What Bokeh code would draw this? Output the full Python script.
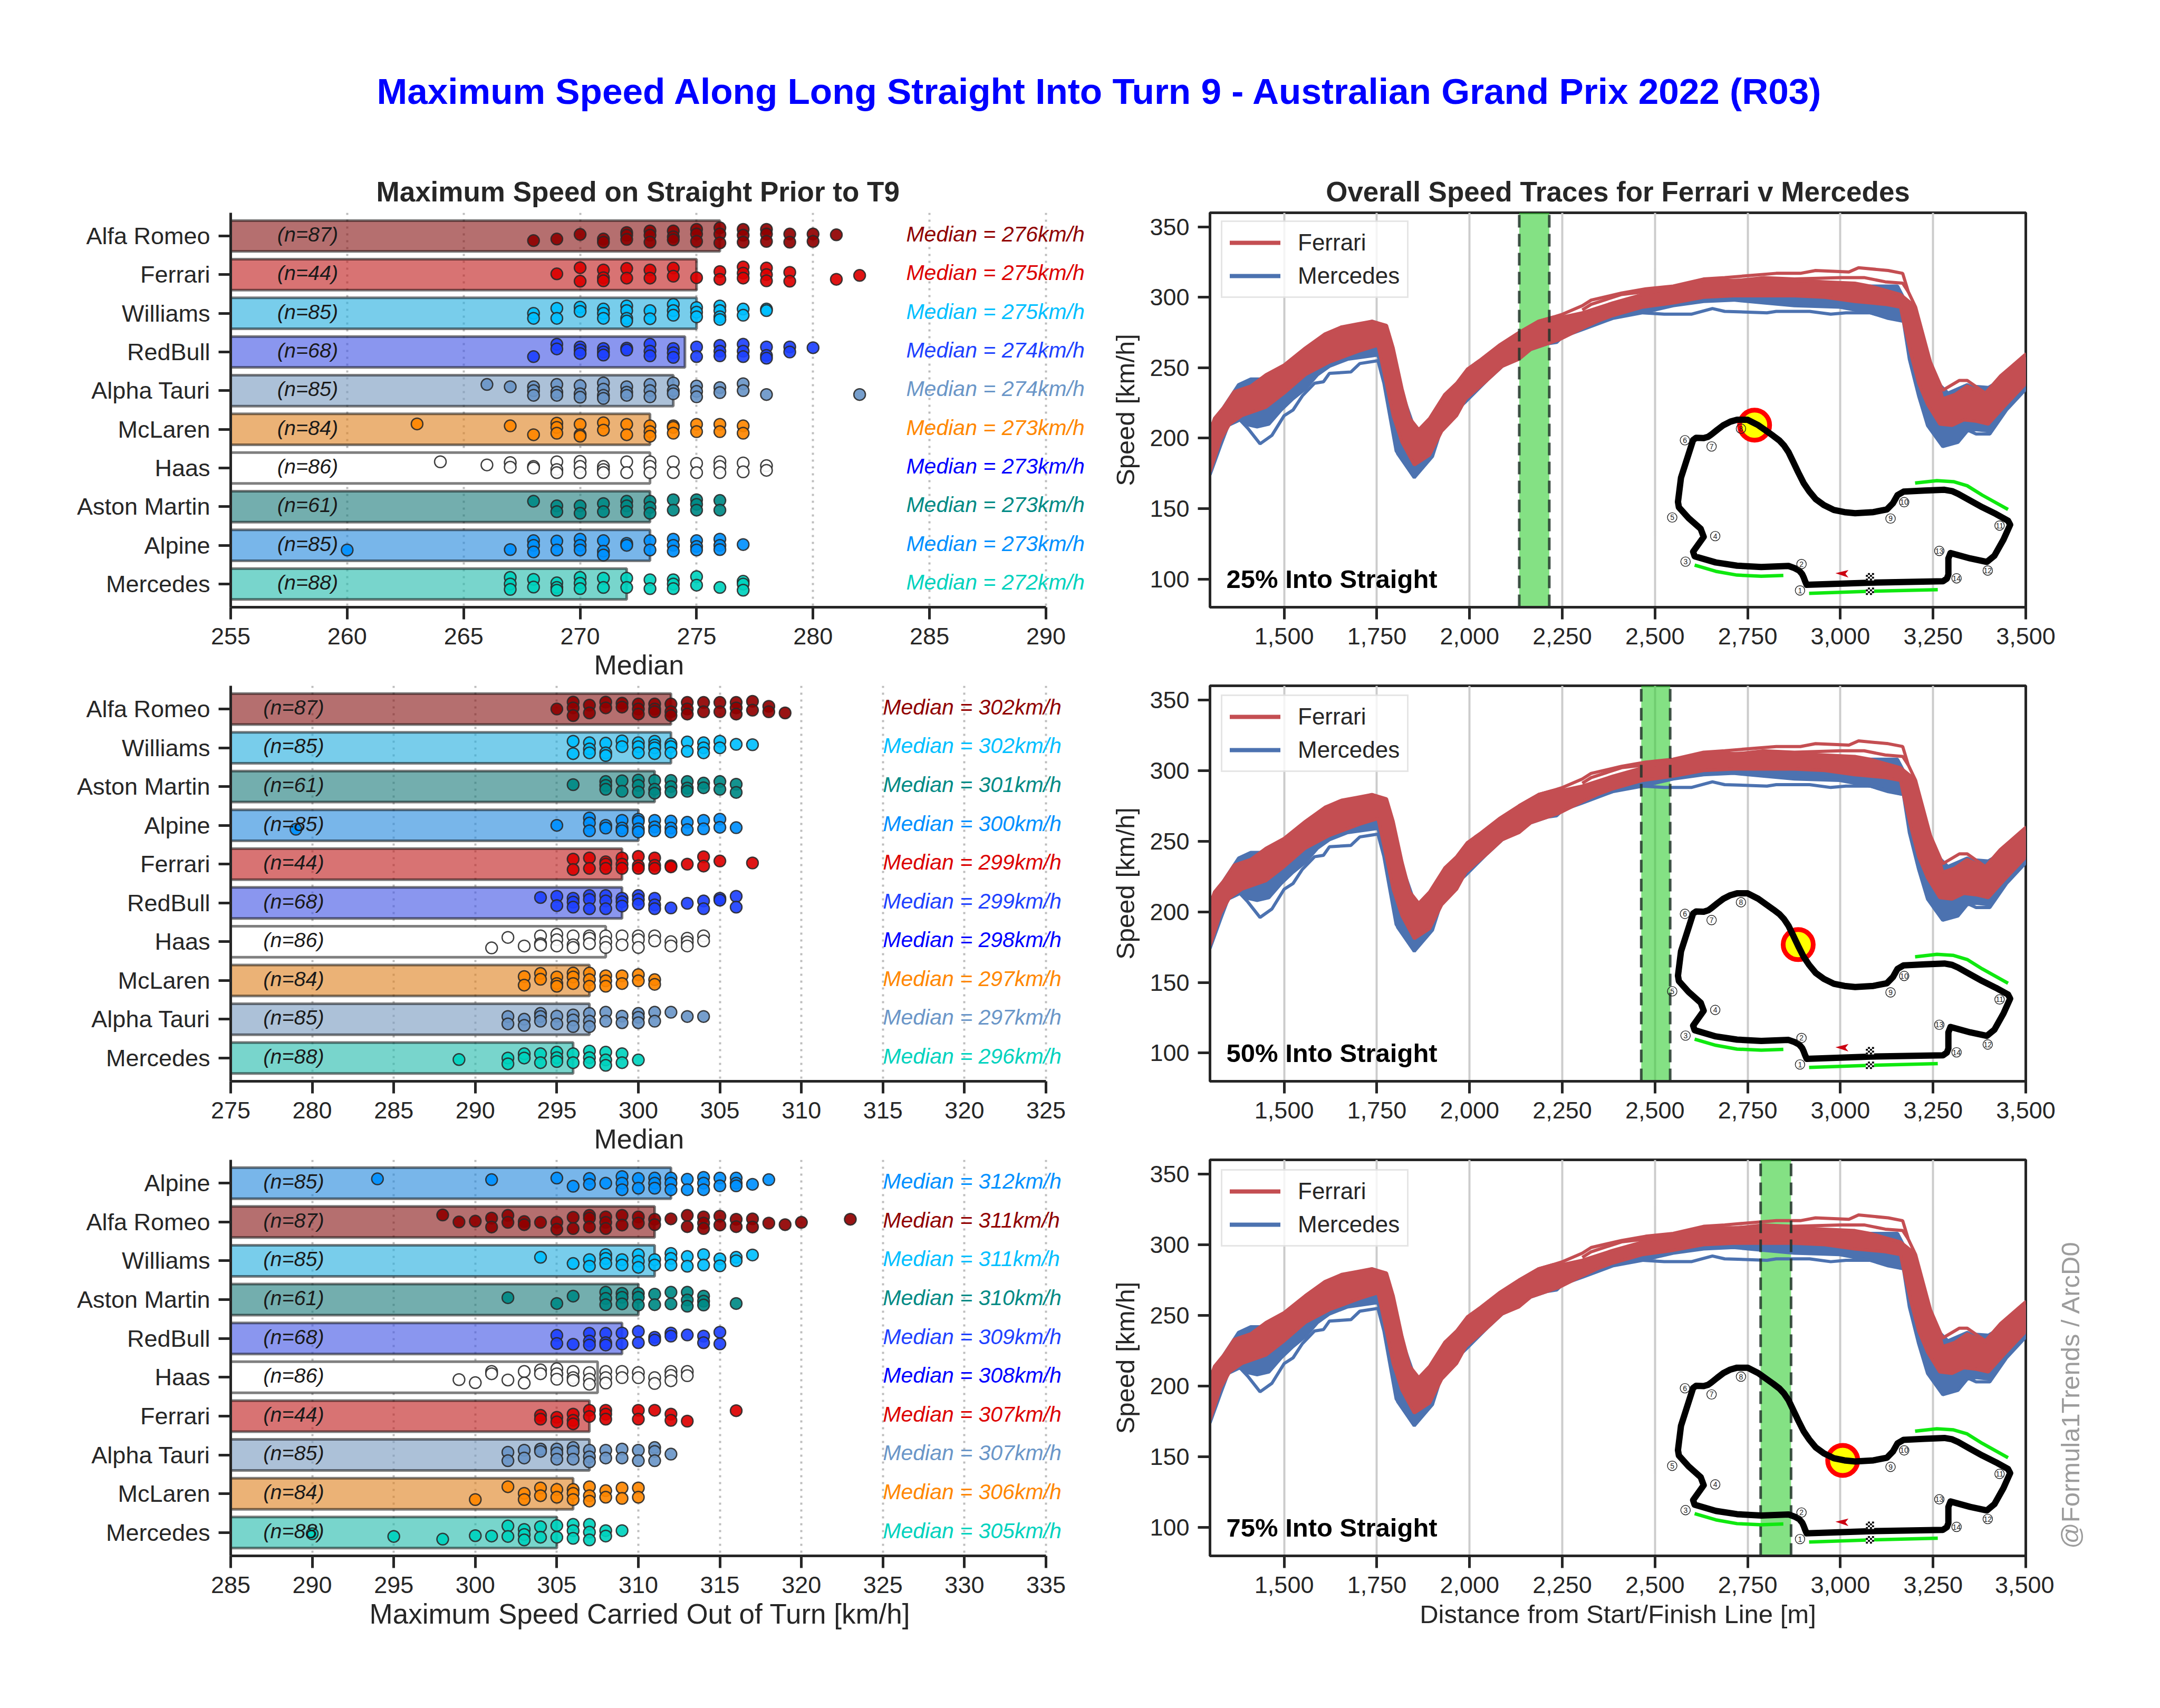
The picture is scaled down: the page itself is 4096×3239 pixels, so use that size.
from math import pi
from bokeh.embed import file_html
from bokeh.resources import INLINE
from bokeh.plotting import figure
from bokeh.layouts import column, row
from bokeh.core.properties import value
from bokeh.models import (FixedTicker, Label, Legend, LegendItem, NumeralTickFormatter, Range1d, Title)

FONT = "Liberation Sans"
INK = "#262626"

TITLE = "Maximum Speed Along Long Straight Into Turn 9 - Australian Grand Prix 2022 (R03)"
LEFT_TITLE = "Maximum Speed on Straight Prior to T9"
RIGHT_TITLE = "Overall Speed Traces for Ferrari v Mercedes"
WATERMARK = "@Formula1Trends / ArcD0"

# team -> (dot colour, bar colour, label colour)
POINT = {"Alfa Romeo": "#900000", "Ferrari": "#dc0000", "Williams": "#00bfff", "RedBull": "#1e41ff",
         "Alpha Tauri": "#6a96c8", "McLaren": "#ff8700", "Haas": "#ffffff", "Aston Martin": "#008a85",
         "Alpine": "#0090ff", "Mercedes": "#00d2be"}
BAR = {"Alfa Romeo": "#840f0f", "Ferrari": "#be1616", "Williams": "#1eacde", "RedBull": "#3c50e4",
       "Alpha Tauri": "#7598be", "McLaren": "#de7f1b", "Haas": "#ffffff", "Aston Martin": "#167878",
       "Alpine": "#1e85dc", "Mercedes": "#1eb9aa"}
TEXT = dict(POINT, Haas="#0000ff")
LAPS = {"Alfa Romeo": 87, "Ferrari": 44, "Williams": 85, "RedBull": 68, "Alpha Tauri": 85, "McLaren": 84,
        "Haas": 86, "Aston Martin": 61, "Alpine": 85, "Mercedes": 88}

# ---------- 25 % ---------- speed: strip-plot vertical offsets
P1_ALFA = {268:[.12],269:[.08],270:[-.04],271:[.08,.16],272:[-.09,-.02,.09],273:[-.13,-.02,.16],274:[-.13,.02,.1],
           275:[-.17,-.05,.14],276:[-.21,-.05,.18],277:[-.17,-.02,.16],278:[-.17,-.05,.14],279:[-.05,.16],280:[-.05,.14],281:[-.03]}
P1_FERRARI = {269:[-.02],270:[-.18,.17],271:[-.12,.08,.16],272:[-.16,.09],273:[-.12,.09],274:[-.17,.04],275:[.08],
              276:[-.08,.12],277:[-.2,-.04,.09],278:[-.17,0,.16],279:[-.06,.17],281:[.12],282:[.02]}
P1_WILLIAMS = {268:[0,.13],269:[-.13,.13],270:[-.16,-.05],271:[-.11,0,.13],272:[-.19,-.07,.13,.2],273:[-.07,.14],
               274:[-.23,-.07,.05],275:[-.15,-.03,.09],276:[-.19,-.07,.09,.16],277:[-.11,.05],278:[-.11,-.07]}
P1_REDBULL = {268:[.12],269:[-.2,-.08],270:[-.13,-.05,.04],271:[-.09,0,.08],272:[-.1,-.05],273:[-.2,-.02,.1],
              274:[-.09,.02,.14],275:[-.13,.12],276:[-.17,-.02,.1],277:[-.2,-.02,.12],278:[-.13,.09,.16],279:[-.13,0],280:[-.11]}
P1_ALPHATAURI = {266:[-.16],267:[-.1],268:[-.1,0,.12],269:[-.16,.04,.12],270:[-.13,.08,.17],271:[-.2,-.04,.12,.2],
                 272:[-.1,.04,.12],273:[-.16,0,.16],274:[-.2,0,.08],275:[-.12,.02,.16],276:[-.08,.05],277:[-.18,0],278:[.1],282:[.1]}
P1_MCLAREN = {263:[-.14],267:[-.09],268:[.14],269:[-.16,-.05,.1],270:[-.13,.14,.18],271:[-.17,.02],272:[-.13,.14],
              273:[-.09,.06,.18],274:[-.09,-.05,.1],275:[-.13,.06],276:[-.13,.06],277:[-.09,.1]}
P1_HAAS = {264:[-.16],266:[-.08],267:[-.14,-.02],268:[-.04,0],269:[-.16,.04,.12],270:[-.17,-.04,.12],271:[-.04,.04,.12],
           272:[-.16,.12],273:[-.16,-.04,.12],274:[-.16,.12],275:[-.12,.12],276:[-.16,-.04,.12],277:[-.13,.1],278:[-.06,.06]}
P1_ASTON = {268:[-.14],269:[-.02,.13],270:[-.02,.17],271:[-.08,.13],272:[-.14,-.02,.13],273:[-.14,.02,.17],
            274:[-.18,.09],275:[-.18,-.06,.09],276:[-.16,.09]}
P1_ALPINE = {260:[.12],267:[.11],268:[-.12,0,.17],269:[-.11,.12],270:[-.16,0,.12],271:[-.12,.15,.25],272:[-.05,0],
             273:[-.12,.12],274:[-.16,0,.15],275:[-.12,.03,.12],276:[-.16,0,.11],277:[-.02]}
P1_MERCEDES = {267:[-.17,0,.14],268:[-.12,.08],269:[-.03,.09,.16],270:[-.17,-.02,.12],271:[-.15,.09],272:[-.15,.09],
               273:[-.11,.12],274:[-.11,0,.12],275:[-.19,.03],276:[.09],277:[-.07,0,.16]}

P1_ORDER = ["Alfa Romeo", "Ferrari", "Williams", "RedBull", "Alpha Tauri", "McLaren", "Haas", "Aston Martin", "Alpine", "Mercedes"]
P1_MEDIAN = [276, 275, 275, 274, 274, 273, 273, 273, 273, 272]
P1_BAR_END = [276, 275, 275, 274.5, 274, 273, 273, 273, 273, 272]
P1_POINTS = [P1_ALFA, P1_FERRARI, P1_WILLIAMS, P1_REDBULL, P1_ALPHATAURI, P1_MCLAREN, P1_HAAS, P1_ASTON, P1_ALPINE, P1_MERCEDES]
P1_TICKS = [255, 260, 265, 270, 275, 280, 285, 290]

# ---------- 50 % ----------
P2_ALFA = {295:[0],296:[-.18,-.03,.17],297:[-.1,.1],298:[-.18,-.03],299:[-.15,-.05],300:[-.13,0,.13],301:[-.13,0,.07],
           302:[-.13,.07,.17],303:[-.17,0,.13],304:[-.17,.07],305:[-.17,.07],306:[-.17,-.03,.13],307:[-.2,.03],308:[-.07,.07],309:[.1]}
P2_WILLIAMS = {296:[-.17,.15],297:[-.13,.03,.13],298:[-.12,.13,.2],299:[-.18,-.03],300:[-.13,-.03,.13],301:[-.17,-.07,0,.15],
               302:[-.1,-.03,.13],303:[-.15,.09],304:[-.13,0,.13],305:[-.17,0],306:[-.09],307:[-.08]}
P2_ASTON = {296:[-.05],298:[-.13,-.03,.07],299:[-.15,.12],300:[-.17,-.03,.14],301:[-.16,.07,.17],302:[-.16,0,.14],
            303:[-.13,.04,.12],304:[-.09,.03],305:[-.13,.07],306:[-.06,.15]}
P2_ALPINE = {279:[.1],295:[0],297:[-.19,-.06,.14],298:[0,.07],299:[-.13,.07,.14],300:[-.16,-.1,.09,.17],301:[-.13,.04,.14],
             302:[-.11,.07,.17],303:[-.08,.11],304:[-.13,.09],305:[-.16,.05],306:[.06]}
P2_FERRARI = {296:[-.13,.14],297:[-.16,.11],298:[-.06,0,.11],299:[-.16,0,.11],300:[-.2,.04,.11],301:[-.16,.03,.11],302:[.04,.07],
              303:[0],304:[-.19,.05],305:[-.08],307:[-.03]}
P2_REDBULL = {294:[-.14],295:[-.17,.07],296:[-.12,-.02,.11],297:[-.19,-.09,.15],298:[-.19,-.05,.15],299:[-.12,-.03,.08],
              300:[-.19,-.09,.03],301:[-.12,.05,.15],302:[.13],303:[.01],304:[-.05,.15],305:[-.12,-.07],306:[-.17,.11]}
P2_HAAS = {291:[.16],292:[-.11],293:[.11],294:[-.15,.05,.09],295:[-.19,-.05,.11],296:[-.15,.08,.15],297:[-.15,-.09,.05],
           298:[-.15,.01,.15],299:[-.15,.08],300:[-.15,-.05,.15],301:[-.15,-.02],302:[0,.11],303:[-.09,.01,.11],304:[-.15,-.02]}
P2_MCLAREN = {293:[-.1,.12],294:[-.18,-.03],295:[-.09,.08,.15],296:[-.19,-.09,.08],297:[-.19,-.02,.15],298:[-.12,.01,.15],
              299:[-.12,.08],300:[-.15,.01],301:[-.02,.1]}
P2_ALPHATAURI = {292:[-.07,.12],293:[0,.16],294:[-.15,-.07,.05],295:[-.08,.12],296:[-.11,.02,.19],297:[-.15,.05,.19],
                 298:[-.18,.05],299:[-.08,.09],300:[-.15,-.05,.09],301:[-.18,.05],302:[-.18],303:[-.07],304:[-.07]}
P2_MERCEDES = {289:[.04],292:[0,.15],293:[-.11,0],294:[-.11,.12],295:[-.15,-.01,.09],296:[-.11,.12],297:[-.18,-.01,.12],
               298:[-.15,.05,.19],299:[-.11,.12],300:[.05]}

P2_ORDER = ["Alfa Romeo", "Williams", "Aston Martin", "Alpine", "Ferrari", "RedBull", "Haas", "McLaren", "Alpha Tauri", "Mercedes"]
P2_MEDIAN = [302, 302, 301, 300, 299, 299, 298, 297, 297, 296]
P2_BAR_END = P2_MEDIAN
P2_POINTS = [P2_ALFA, P2_WILLIAMS, P2_ASTON, P2_ALPINE, P2_FERRARI, P2_REDBULL, P2_HAAS, P2_MCLAREN, P2_ALPHATAURI, P2_MERCEDES]
P2_TICKS = [275, 280, 285, 290, 295, 300, 305, 310, 315, 320, 325]

# ---------- 75 % ----------
P3_ALPINE = {294:[-.11],301:[-.09],305:[-.13],306:[.08],307:[-.12,.03],308:[0],309:[-.17,0,.17],310:[-.12,.13],311:[-.13,0,.13],
             312:[-.13,0,.17],313:[-.1,.17],314:[-.15,0,.17],315:[-.13,.07],316:[-.13,0,.07],317:[.03],318:[-.09]}
P3_ALFA = {298:[-.18],299:[0],300:[-.02],301:[-.1,.13],302:[-.17,.01],303:[-.01,.07],304:[.01],305:[.01,.19],306:[-.12,.17],
           307:[-.17,-.1,.13],308:[-.13,.01,.17],309:[-.17,.08],310:[-.13,.03],311:[-.07,.07],312:[-.08],313:[-.17,.12],
           314:[-.13,.03,.17],315:[-.15,.08],316:[-.07,.12],317:[-.08,.13],318:[.03],319:[.07],320:[.01],323:[-.07]}
P3_WILLIAMS = {304:[-.09],306:[.07],307:[-.03,.14],308:[-.16,-.06,.07],309:[-.03,.11],310:[-.16,.01,.17],311:[-.03,.11],
               312:[-.19,-.06,.11],313:[-.11,.14],314:[-.16,.11],315:[-.05,.13],316:[-.09,0],317:[-.15]}
P3_ASTON = {302:[-.05],305:[.1],306:[-.09],308:[-.19,-.03,.13],309:[-.16,-.06,.11],310:[-.16,-.06,.14],311:[-.14,.13],
            312:[-.19,.11],313:[-.19,.01,.17],314:[-.09,.04,.14],316:[.1]}
P3_REDBULL = {305:[-.08,.13],306:[.15],307:[-.13,.07,.17],308:[-.13,.11,.17],309:[-.14,.14],310:[-.18,.11],311:[-.03,.04],
              312:[-.14,-.06],313:[-.09],314:[-.06,.11],315:[-.16,.14]}
P3_HAAS = {299:[.06],300:[.14],301:[-.15,-.09],302:[.07],303:[-.15,.15],304:[-.19,-.09],305:[-.22,-.09,.05],306:[-.15,.01,.08],
           307:[-.12,.05,.18],308:[-.15,.01,.15],309:[-.15,.01],310:[-.12,.01],311:[.01,.16],312:[-.15,-.05,.09],313:[-.15,-.04]}
P3_FERRARI = {304:[-.02,.08],305:[.03,.15],306:[-.05,.11,.2],307:[-.15,.01],308:[-.15,-.05,.08],310:[-.15,.08],311:[-.15],
              312:[-.05,.11],313:[.13],316:[-.14]}
P3_ALPHATAURI = {302:[-.07,.15],303:[-.12,.08],304:[-.15,-.09],305:[-.15,-.05,.11],306:[-.19,-.09,.11],307:[-.12,.05,.18],
                 308:[-.12,.08],309:[-.15,.08],310:[-.12,.15],311:[-.19,-.09,.15],312:[-.02]}
P3_MCLAREN = {300:[.15],302:[-.18],303:[-.01,.15],304:[-.15,.05],305:[-.11,.09],306:[-.11,-.01,.15],307:[-.18,.05,.19],
              308:[-.08,.09],309:[-.15,.12],310:[-.15,.09]}
P3_MERCEDES = {290:[.03],295:[.1],298:[.17],300:[.08],301:[.09],302:[-.17,.1],303:[-.08,.05,.19],304:[-.15,.12],305:[-.18,.12],
               306:[-.21,-.05,.15],307:[-.21,-.01,.19],308:[-.05,.09],309:[-.05]}

P3_ORDER = ["Alpine", "Alfa Romeo", "Williams", "Aston Martin", "RedBull", "Haas", "Ferrari", "Alpha Tauri", "McLaren", "Mercedes"]
P3_MEDIAN = [312, 311, 311, 310, 309, 308, 307, 307, 306, 305]
P3_BAR_END = [312, 311, 311, 310, 309, 307.5, 307, 307, 306, 305]
P3_POINTS = [P3_ALPINE, P3_ALFA, P3_WILLIAMS, P3_ASTON, P3_REDBULL, P3_HAAS, P3_FERRARI, P3_ALPHATAURI, P3_MCLAREN, P3_MERCEDES]
P3_TICKS = [285, 290, 295, 300, 305, 310, 315, 320, 325, 330, 335]

# ---------- speed traces (distance [m], speed [km/h]) ----------
FERRARI_HI_D = [1300,1312,1337,1365,1410,1451,1500,1557,1610,1655,1696,1737,1776,1794,1818,1839,1863,1892,1933,1965,1994,2031,2080,2133,2186,2227,2251,
                2304,2386,2467,2549,2631,2712,2794,2876,2958,3039,3080,3121,3162,3190,3211,3235,3260,3276,3309,3342,3391,3431,3501]
FERRARI_HI_V = [205,214,222,233,237,245,252,264,274,279,281,283,280,264,235,214,206,214,231,239,249,256,266,275,283,286,286,
                289,296,302,307,312,312,313,312,311,310,308,305,302,296,283,258,243,228,231,237,231,243,258]
FERRARI_LO_D = [1300,1329,1353,1386,1451,1500,1557,1622,1704,1753,1769,1794,1818,1851,1892,1925,1965,1990,2047,2088,2133,2165,2210,2243,
                2304,2345,2386,2467,2549,2631,2712,2794,2876,2958,3039,3121,3162,3170,3190,3211,3235,3268,3301,3333,3366,3399,3440,3501]
FERRARI_LO_V = [176,199,210,216,222,232,245,254,262,266,247,216,197,181,188,205,216,228,241,251,256,263,267,270,
                278,283,287,293,296,300,301,301,301,300,297,295,293,283,260,239,224,210,209,213,212,210,222,239]
MERCEDES_HI_D = [1300,1337,1377,1410,1435,1500,1557,1610,1696,1737,1770,1794,1818,1850,1863,1892,1933,1965,2031,2133,2251,2386,2549,2631,2794,2876,
                 3039,3080,3154,3170,3190,3211,3235,3260,3290,3342,3350,3399,3431,3501]
MERCEDES_HI_V = [202,222,238,242,242,250,262,272,280,283,280,262,232,208,205,212,229,238,254,274,285,294,304,308,310,310,
                 307,308,308,300,290,279,255,240,232,238,237,236,241,257]
MERCEDES_LO_D = [1300,1329,1349,1381,1394,1427,1459,1492,1524,1557,1590,1622,1671,1753,1765,1786,1806,1851,1900,1917,1933,1990,2047,2088,2133,2165,2210,2235,2251,
                 2304,2386,2467,2549,2631,2712,2794,2876,2998,3080,3170,3186,3211,3235,3276,3317,3342,3366,3403,3448,3501]
MERCEDES_LO_V = [174,195,209,213,210,208,210,220,228,235,245,251,256,259,247,224,189,172,187,201,212,226,241,251,257,263,267,268,272,
                 277,285,289,294,297,298,296,294,293,289,283,256,230,209,194,197,205,206,205,222,235]
FERRARI_LAP1_D = [2133,2186,2227,2251,2304,2328,2410,2475,2549,2631,2688,2827,2892,2933,3023,3049,3129,3168,3183,3203,3243,3276,3321,3342,3391,3431,3501]
FERRARI_LAP1_V = [275,283,286,288,294,298,303,306,308,313,314,317,317,319,318,321,319,317,304,293,254,234,241,241,232,244,260]
FERRARI_LAP2_D = [2304,2328,2410,2475,2549,2794,2876,3000,3064,3121,3168,3183]
FERRARI_LAP2_V = [291,295,302,304,307,314,313,314,314,311,310,304]
MERCEDES_LAP1_D = [1377,1402,1435,1467,1500,1524,1549,1582,1606,1622,1680,1704,1753,1769,1802,1851]
MERCEDES_LAP1_V = [214,207,196,202,216,220,230,239,240,246,247,253,255,239,191,172]
MERCEDES_LAP2_D = [2467,2525,2598,2655,2688,2802,2827,2917,2974,3015,3080,3129,3170]
MERCEDES_LAP2_V = [289,288,288,292,290,289,290,290,288,289,289,285,283]
MERCEDES_LAP3_D = [3317,3333,3366,3403,3448,3501]
MERCEDES_LAP3_V = [197,207,203,203,220,235]

# highlighted stretch of straight in each panel
ZONE_START = [2134, 2463, 2785]
ZONE_END = [2215, 2541, 2867]
ZONE_TEXT = ["25% Into Straight", "50% Into Straight", "75% Into Straight"]
MARKER_MAP_X = [568, 712, 859]
MARKER_MAP_Y = [835, 1005, 1158]

# ---------- circuit map, in map units ----------
TRACK_X = [1190,950,740,735,730,725,715,700,680,590,510,440,370,365,400,390,350,318,315,325,345,365,375,400,415,425,445,465,488,510,545,580,605,630,650,665,680,695,712,730,748,770,797,830,865,900,960,1005,1025,1040,1060,1130,1195,1220,1240,1280,1320,1365,1405,1412,1390,1360,1335,1280,1215,1208,1208,1203,1190]
TRACK_Y = [1415,1420,1428,1415,1400,1388,1375,1366,1358,1362,1357,1345,1322,1305,1250,1220,1180,1140,1120,1030,960,890,882,883,878,870,852,835,822,815,815,835,855,875,892,910,935,970,1010,1050,1080,1110,1132,1150,1158,1162,1158,1148,1125,1095,1082,1078,1075,1080,1090,1115,1140,1165,1190,1205,1260,1320,1343,1330,1310,1330,1390,1405,1415]
DRS1_X = [370,440,510,590,663]
DRS1_Y = [1355,1378,1392,1396,1393]
DRS2_X = [748,950,1173]
DRS2_Y = [1460,1452,1446]
DRS3_X = [1098,1170,1225,1270,1320,1405]
DRS3_Y = [1050,1041,1045,1060,1095,1148]
TURN_X = [718,723,340,438,296,338,426,523,1017,1062,1377,1338,1178,1235]
TURN_Y = [1449,1351,1342,1247,1178,891,914,848,1182,1121,1208,1375,1302,1404]
TURN_NAME = ["1","2","3","4","5","6","7","8","9","10","11","12","13","14"]
ARROW_X = [835,878,868,878]
ARROW_Y = [1385,1373,1387,1401]
FLAG_X = [949,949]
FLAG_Y = [1398,1452]


def mx(v):
    return [2304.8 + 0.8166 * a for a in v]


def my(v):
    return [368.8 - 0.1911 * a for a in v]


def style_axes(p, xt, yt=None):
    for ax in (p.xaxis[0], p.yaxis[0]):
        ax.axis_line_color = INK
        ax.axis_line_width = 5
        ax.major_tick_line_color = INK
        ax.major_tick_line_width = 5
        ax.major_tick_in = 0
        ax.major_tick_out = 23
        ax.minor_tick_line_color = None
        ax.major_label_text_font = FONT
        ax.major_label_text_font_size = "45px"
        ax.major_label_text_color = INK
        ax.major_label_standoff = 16
        ax.axis_label_text_font = FONT
        ax.axis_label_text_font_style = "normal"
        ax.axis_label_text_color = INK
    p.xaxis[0].ticker = FixedTicker(ticks=xt)
    if yt is not None:
        p.yaxis[0].ticker = FixedTicker(ticks=yt)


def title_style(p):
    p.title.text_font = FONT
    p.title.text_font_size = "53px"
    p.title.text_font_style = "bold"
    p.title.text_color = INK
    p.title.standoff = 21


def left_panel(order, medians, bar_ends, points, ticks, xlabel, xlabel_offset, xlabel_size, label_x, median_x, width, height, top, bottom, title=None):
    span = ticks[-1] - ticks[0]
    x_end = ticks[-1] + (width - 437 - 1546) * span / 1546
    p = figure(width=width, height=height, output_backend="svg", toolbar_location=None, title=title,
               x_range=Range1d(ticks[0], x_end), y_range=Range1d(9.6, -0.6),
               min_border_left=437, min_border_right=0, min_border_top=top, min_border_bottom=bottom)
    if title:
        title_style(p)
        p.title.align = "left"
        p.title.offset = 276
    p.outline_line_color = None
    p.background_fill_color = "white"
    style_axes(p, ticks, list(range(10)))
    p.xaxis[0].bounds = (ticks[0], ticks[-1])
    p.yaxis[0].major_label_overrides = {i: t for i, t in enumerate(order)}
    p.add_layout(Title(text=xlabel, align="left", offset=xlabel_offset, text_font=FONT, text_font_size=xlabel_size,
                       text_font_style="normal", text_color=INK, standoff=10), "below")
    p.ygrid.visible = False
    p.xgrid.grid_line_color = "#bdbdbd"
    p.xgrid.grid_line_width = 4
    p.xgrid.grid_line_dash = [4, 9]
    p.xgrid.ticker = FixedTicker(ticks=ticks)

    ys = list(range(10))
    p.hbar(y=ys, left=[ticks[0]] * 10, right=bar_ends, height=0.8,
           fill_color=[BAR[t] for t in order], fill_alpha=[0.6 if t != "Haas" else 1.0 for t in order],
           line_color="black", line_alpha=0.5, line_width=5)
    for i, (team, pts) in enumerate(zip(order, points)):
        xs, yy = [], []
        for speed, offs in pts.items():
            for o in offs:
                xs.append(speed)
                yy.append(i + o)
        p.scatter(xs, yy, size=22, fill_color=POINT[team], fill_alpha=0.92,
                  line_color="#2a2a2a", line_alpha=0.9, line_width=2.5)
    for i, team in enumerate(order):
        p.add_layout(Label(x=label_x, y=i - 0.05, text="(n=%d)" % LAPS[team], text_font=FONT, text_font_size="39.5px",
                           text_font_style="italic", text_color="#1a1a1a", text_align="left", text_baseline="middle"))
        p.add_layout(Label(x=median_x, y=i - 0.05, text="Median = %dkm/h" % medians[i], text_font=FONT, text_font_size="41px",
                           text_font_style="italic", text_color=TEXT[team], text_align="left", text_baseline="middle"))
    return p


def right_panel(k, xlabel, width, height, top, bottom, title=None):
    p = figure(width=width, height=height, output_backend="svg", toolbar_location=None, title=title,
               x_range=Range1d(1300, 3500), y_range=Range1d(80, 360),
               min_border_left=194, min_border_right=width - 194 - 1547, min_border_top=top, min_border_bottom=bottom)
    if title:
        title_style(p)
        p.title.align = "center"
    p.outline_line_color = INK
    p.outline_line_width = 5
    style_axes(p, list(range(1500, 3501, 250)), [100, 150, 200, 250, 300, 350])
    p.xaxis[0].formatter = NumeralTickFormatter(format="0,0")
    if xlabel:
        p.xaxis[0].axis_label = xlabel
    p.xaxis[0].axis_label_text_font_size = "49px"
    p.xaxis[0].axis_label_standoff = 10
    p.yaxis[0].axis_label = "Speed [km/h]"
    p.yaxis[0].axis_label_text_font_size = "49px"
    p.yaxis[0].axis_label_standoff = 16
    p.ygrid.visible = False
    p.xgrid.grid_line_color = "#cccccc"
    p.xgrid.grid_line_width = 4
    p.xgrid.ticker = FixedTicker(ticks=list(range(1500, 3501, 250)))

    p.quad(left=[ZONE_START[k]], right=[ZONE_END[k]], bottom=[80], top=[360], fill_color="limegreen",
           fill_alpha=0.6, line_color=None)

    for hi_d, hi_v, lo_d, lo_v, col, laps in (
        (MERCEDES_HI_D, MERCEDES_HI_V, MERCEDES_LO_D, MERCEDES_LO_V, "#4c72b0",
         [(MERCEDES_LAP1_D, MERCEDES_LAP1_V), (MERCEDES_LAP2_D, MERCEDES_LAP2_V), (MERCEDES_LAP3_D, MERCEDES_LAP3_V)]),
        (FERRARI_HI_D, FERRARI_HI_V, FERRARI_LO_D, FERRARI_LO_V, "#c44e52",
         [(FERRARI_LAP1_D, FERRARI_LAP1_V), (FERRARI_LAP2_D, FERRARI_LAP2_V)]),
    ):
        for d, v in laps:
            p.line(d, v, line_color=col, line_width=6)
        p.patch(hi_d + lo_d[::-1], hi_v + lo_v[::-1], fill_color=col, line_color=col, line_width=6)

    p.segment(x0=[ZONE_START[k], ZONE_END[k]], x1=[ZONE_START[k], ZONE_END[k]], y0=[80, 80], y1=[360, 360],
              line_color="#22352a", line_alpha=0.85, line_width=5, line_dash="24 12")

    # circuit map
    p.scatter(mx([MARKER_MAP_X[k]]), my([MARKER_MAP_Y[k]]), size=57, fill_color="#ffff00", line_color="#ff0000", line_width=9)
    for dx, dy in ((DRS1_X, DRS1_Y), (DRS2_X, DRS2_Y), (DRS3_X, DRS3_Y)):
        p.line(mx(dx), my(dy), line_color="#0fe80f", line_width=6.5)
    p.line(mx(TRACK_X), my(TRACK_Y), line_color="black", line_width=12, line_join="round", line_cap="round")
    p.patch(mx(ARROW_X), my(ARROW_Y), fill_color="#cc0011", line_color=None)
    cell_w, cell_h = 5.5, 1.31
    for fx, fy in zip(mx(FLAG_X), my(FLAG_Y)):
        p.rect([fx], [fy], width=cell_w * 4, height=cell_h * 4, fill_color="white", line_color=None)
        xs, ys = [], []
        for i in range(4):
            for j in range(4):
                if (i + j) % 2 == 0:
                    xs.append(fx + (i - 1.5) * cell_w)
                    ys.append(fy + (j - 1.5) * cell_h)
        p.rect(xs, ys, width=cell_w, height=cell_h, fill_color="black", line_color=None)
    p.scatter(mx(TURN_X), my(TURN_Y), size=18, fill_color="white", fill_alpha=0.0, line_color="#222222", line_width=1.4)
    p.text(mx(TURN_X), my(TURN_Y), text=TURN_NAME, text_font=value(FONT), text_font_size="14px", text_color="#222222",
           text_align="center", text_baseline="middle")

    p.add_layout(Label(x=1344, y=100, text=ZONE_TEXT[k], text_font=FONT, text_font_size="49px", text_font_style="bold",
                       text_color="black", text_baseline="middle", text_align="left"))

    nan = float("nan")
    r_f = p.line([1300, 1301], [nan, nan], line_color="#c44e52", line_width=8, line_cap="round")
    r_m = p.line([1300, 1301], [nan, nan], line_color="#4c72b0", line_width=8, line_cap="round")
    leg = Legend(items=[LegendItem(label="Ferrari", renderers=[r_f]), LegendItem(label="Mercedes", renderers=[r_m])],
                 location=(21, 586), orientation="vertical",
                 label_text_font=FONT, label_text_font_size="44px", label_text_color=INK,
                 glyph_width=96, glyph_height=50, label_height=50, label_width=190, label_standoff=33,
                 spacing=13, padding=14, margin=0, background_fill_alpha=0.8,
                 border_line_color="#cccccc", border_line_width=3)
    p.add_layout(leg, "center")
    return p


header = figure(width=4088, height=300, output_backend="svg", toolbar_location=None, x_axis_type=None, y_axis_type=None,
                x_range=Range1d(0, 4088), y_range=Range1d(300, 0), min_border=0)
header.outline_line_color = None
header.add_layout(Label(x=2086, y=172, text=TITLE, text_font=FONT, text_font_size="69.3px", text_font_style="bold",
                        text_color="#0000ff", text_align="center", text_baseline="middle"))

W_L, W_R = 2100, 1988
p1 = left_panel(P1_ORDER, P1_MEDIAN, P1_BAR_END, P1_POINTS, P1_TICKS, "Median", 689, "52px", 257, 284, W_L, 998, 103, 147, LEFT_TITLE)
p2 = left_panel(P2_ORDER, P2_MEDIAN, P2_BAR_END, P2_POINTS, P2_TICKS, "Median", 689, "52px", 277, 315, W_L, 899, 2, 147)
p3 = left_panel(P3_ORDER, P3_MEDIAN, P3_BAR_END, P3_POINTS, P3_TICKS, "Maximum Speed Carried Out of Turn [km/h]", 263, "53px", 287, 325, W_L, 1034, 2, 281)

r1 = right_panel(0, "", W_R, 998, 103, 147, RIGHT_TITLE)
r2 = right_panel(1, "", W_R, 899, 2, 147)
r3 = right_panel(2, "Distance from Start/Finish Line [m]", 1795, 1034, 2, 281)

strip = figure(width=193, height=1034, output_backend="svg", toolbar_location=None, x_axis_type=None, y_axis_type=None,
               x_range=Range1d(3895, 4088), y_range=Range1d(3231, 2197), min_border=0)
strip.outline_line_color = None
strip.add_layout(Label(x=3925, y=2810, text=WATERMARK, angle=pi / 2, text_font=FONT, text_font_size="49px",
                       text_color="#9c9c9c", text_align="center", text_baseline="middle"))

layout = column(header, row(p1, r1, spacing=0), row(p2, r2, spacing=0), row(p3, r3, strip, spacing=0), spacing=0)
open("out.html", "w").write(file_html(layout, INLINE))
